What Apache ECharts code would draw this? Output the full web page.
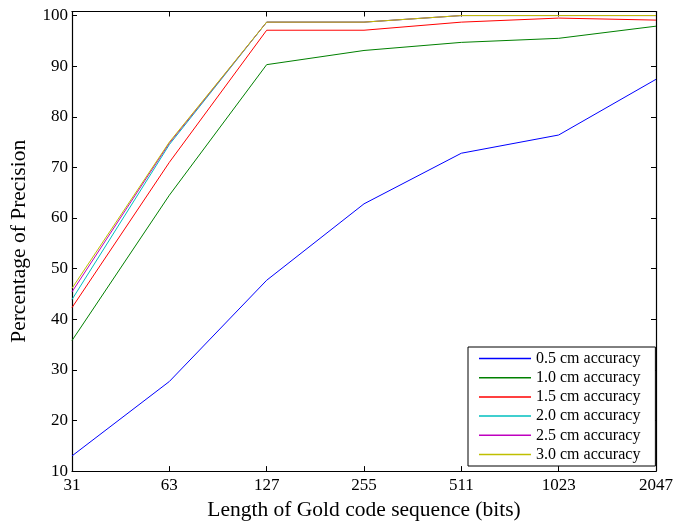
<!DOCTYPE html>
<html>
<head>
<meta charset="utf-8">
<script src="https://cdn.jsdelivr.net/npm/echarts@6/dist/echarts.min.js"></script>
<style>
  html, body { margin: 0; padding: 0; background: #fff; }
  #chart { width: 676px; height: 526px; }
</style>
</head>
<body>
<div id="chart"></div>
<script>
// Sequence lengths (bits) on the x axis
const seqLengths = ['31', '63', '127', '255', '511', '1023', '2047'];

// Precision (%) per accuracy threshold
const acc05 = [13.0, 27.7, 47.7, 62.8, 72.8, 76.4, 87.4];
const acc10 = [35.8, 64.5, 90.3, 93.1, 94.7, 95.5, 97.9];
const acc15 = [42.3, 71.0, 97.1, 97.1, 98.7, 99.5, 99.1];
const acc20 = [43.9, 74.5, 98.7, 98.7, 100, 100, 100];
const acc25 = [45.4, 74.8, 98.7, 98.7, 100, 100, 100];
const acc30 = [46.1, 75.0, 98.7, 98.7, 100, 100, 100];

const seriesNames = ['0.5 cm accuracy', '1.0 cm accuracy', '1.5 cm accuracy',
                     '2.0 cm accuracy', '2.5 cm accuracy', '3.0 cm accuracy'];
const seriesData = [acc05, acc10, acc15, acc20, acc25, acc30];
const colors = ['#0000ff', '#008000', '#ff0000', '#00bfbf', '#bf00bf', '#bfbf00'];

const serif = '"Liberation Serif", "DejaVu Serif", serif';
const spine = { show: true, lineStyle: { color: '#000', width: 1.2 } };
const ticks = { show: true, inside: true, length: 5, lineStyle: { color: '#000', width: 1 } };

const chart = echarts.init(document.getElementById('chart'), null, { renderer: 'canvas' });
chart.setOption({
  animation: false,
  backgroundColor: '#fff',
  color: colors,
  grid: { left: 68, right: 18, top: 11.5, bottom: 50, containLabel: false },
  legend: {
    orient: 'vertical',
    left: 468,
    top: 347,
    padding: [3, 15, 3, 11],
    borderColor: '#000',
    borderWidth: 1,
    backgroundColor: '#fff',
    itemWidth: 52,
    itemHeight: 1.5,
    itemGap: 2.2,
    icon: 'rect',
    textStyle: { fontFamily: serif, fontSize: 16, color: '#000', lineHeight: 17 },
    data: seriesNames
  },
  xAxis: [
    {
      type: 'category',
      data: seqLengths,
      boundaryGap: false,
      position: 'bottom',
      axisLine: spine,
      axisTick: Object.assign({ alignWithLabel: true }, ticks),
      axisLabel: { fontFamily: serif, fontSize: 17, color: '#000', margin: 6 },
      splitLine: { show: false },
      name: 'Length of Gold code sequence (bits)',
      nameLocation: 'middle',
      nameGap: 27,
      nameTextStyle: { fontFamily: serif, fontSize: 21.5, color: '#000' }
    },
    {
      type: 'category',
      data: seqLengths,
      boundaryGap: false,
      position: 'top',
      axisLine: spine,
      axisTick: Object.assign({ alignWithLabel: true }, ticks),
      axisLabel: { show: false },
      splitLine: { show: false }
    }
  ],
  yAxis: [
    {
      type: 'value',
      min: 10,
      max: 100.8,
      interval: 10,
      position: 'left',
      axisLine: spine,
      axisTick: ticks,
      axisLabel: {
        fontFamily: serif, fontSize: 17, color: '#000', margin: 4,
        formatter: v => (Math.abs(v % 10) < 1e-6 ? String(v) : '')
      },
      splitLine: { show: false },
      name: 'Percentage of Precision',
      nameLocation: 'middle',
      nameGap: 42,
      nameTextStyle: { fontFamily: serif, fontSize: 21.5, color: '#000' }
    },
    {
      type: 'value',
      min: 10,
      max: 100.8,
      interval: 10,
      position: 'right',
      axisLine: spine,
      axisTick: ticks,
      axisLabel: { show: false },
      splitLine: { show: false }
    }
  ],
  series: seriesData.map((d, i) => ({
    name: seriesNames[i],
    type: 'line',
    data: d,
    xAxisIndex: 0,
    yAxisIndex: 0,
    symbol: 'none',
    lineStyle: { color: colors[i], width: 1 },
    itemStyle: { color: colors[i] }
  }))
});
</script>
</body>
</html>
